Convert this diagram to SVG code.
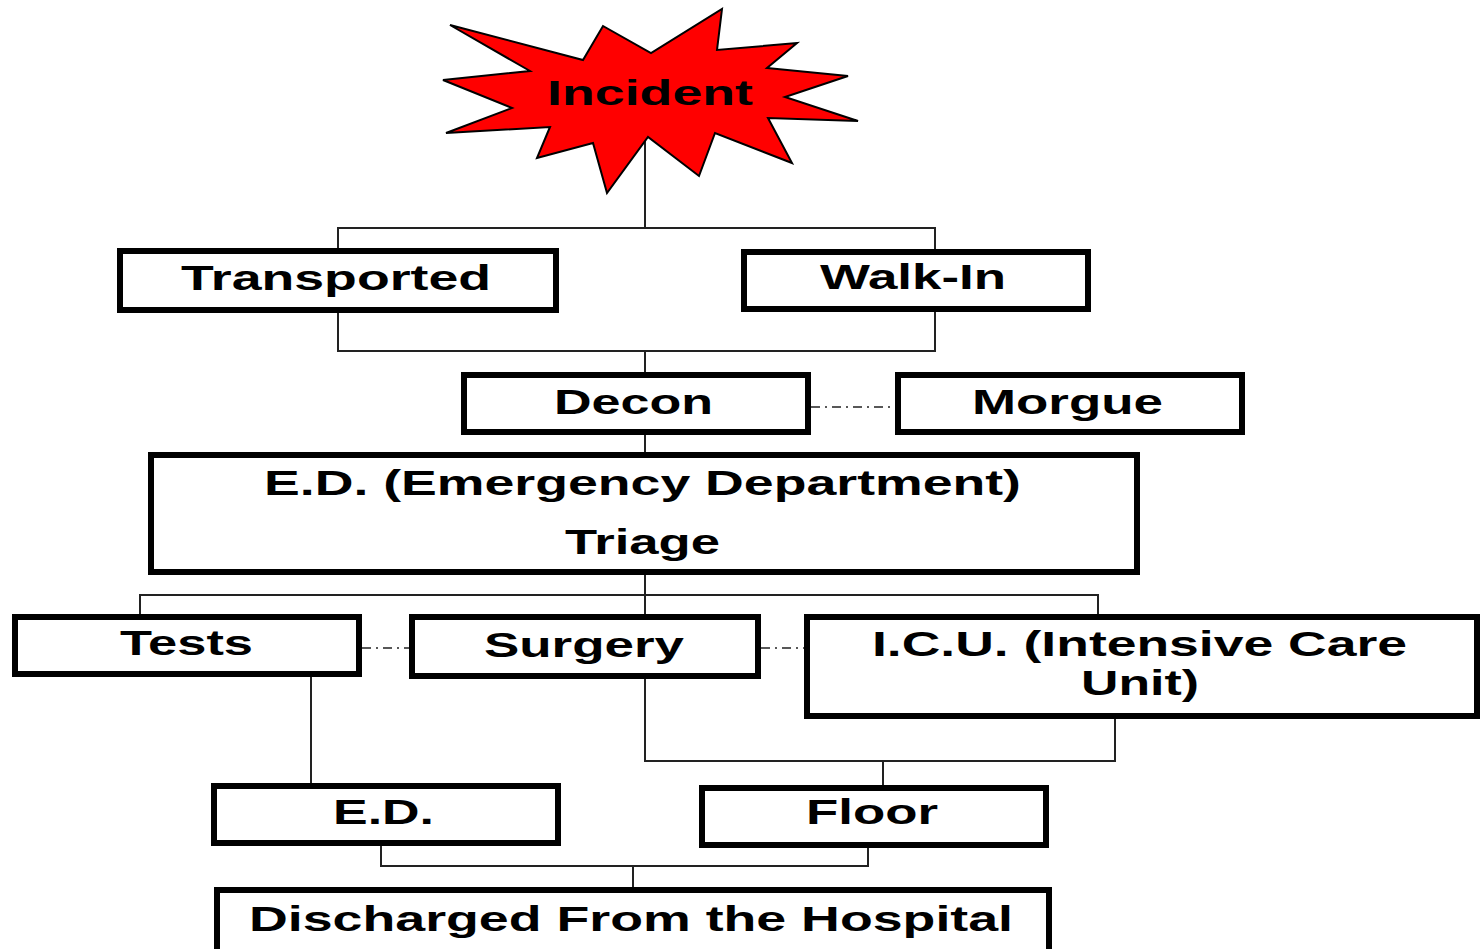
<svg xmlns="http://www.w3.org/2000/svg" width="1482" height="949" viewBox="0 0 1482 949">
<style>
.box{fill:#fff;stroke:#000;stroke-width:6}
.ln{fill:none;stroke:#222;stroke-width:2}
.dd{fill:none;stroke:#222;stroke-width:1.5;stroke-dasharray:9 5 2 5}
.t{font-family:"Liberation Sans",Arial,sans-serif;font-weight:bold;font-size:35px;fill:#000}
</style>
<rect width="1482" height="949" fill="#fff"/>
<g id="connectors">
<path class="ln" d="M645,137 V228 M338,251 V228 H935 V252"/>
<path class="ln" d="M338,310 V351 H935 V309 M645,351 V375"/>
<path class="ln" d="M645,432 V455"/>
<path class="ln" d="M645,572 V617 M140,617 V595 H1098 V617"/>
<path class="ln" d="M311,674 V786"/>
<path class="ln" d="M645,676 V761 H1115 V716 M883,761 V788"/>
<path class="ln" d="M381,843 V866 H868 V845 M633,866 V890"/>
<path class="dd" d="M811,407 H895"/>
<path class="dd" d="M362,648 H409"/>
<path class="dd" d="M761,648 H804"/>
</g>
<g id="incident">
<polygon points="450,25 583,60 603,26 651,53 722,9 717,50 797,43 767,68 848,76 785,97 858,121 768,118 792,163 715,133 699,176 648,137 607,193 593,143 537,158 550,127 446,133 512,108 443,80 530,71" fill="#ff0000" stroke="#000" stroke-width="2" stroke-linejoin="miter"/>
<text class="t" x="547" y="105" textLength="206" lengthAdjust="spacingAndGlyphs">Incident</text>
</g>
<g id="transported">
<rect class="box" x="120" y="251" width="436" height="59"/>
<text class="t" x="181" y="290" textLength="310" lengthAdjust="spacingAndGlyphs">Transported</text>
</g>
<g id="walkin">
<rect class="box" x="744" y="252" width="344" height="57"/>
<text class="t" x="820" y="289" textLength="186" lengthAdjust="spacingAndGlyphs">Walk-In</text>
</g>
<g id="decon">
<rect class="box" x="464" y="375" width="344" height="57"/>
<text class="t" x="554" y="414" textLength="159" lengthAdjust="spacingAndGlyphs">Decon</text>
</g>
<g id="morgue">
<rect class="box" x="898" y="375" width="344" height="57"/>
<text class="t" x="972" y="414" textLength="191" lengthAdjust="spacingAndGlyphs">Morgue</text>
</g>
<g id="ed-triage">
<rect class="box" x="151" y="455" width="986" height="117"/>
<text class="t" x="264" y="495" textLength="757" lengthAdjust="spacingAndGlyphs">E.D. (Emergency Department)</text>
<text class="t" x="565" y="554" textLength="155" lengthAdjust="spacingAndGlyphs">Triage</text>
</g>
<g id="tests">
<rect class="box" x="15" y="617" width="344" height="57"/>
<text class="t" x="120" y="655" textLength="133" lengthAdjust="spacingAndGlyphs">Tests</text>
</g>
<g id="surgery">
<rect class="box" x="412" y="617" width="346" height="59"/>
<text class="t" x="484" y="657" textLength="200" lengthAdjust="spacingAndGlyphs">Surgery</text>
</g>
<g id="icu">
<rect class="box" x="807" y="617" width="670" height="99"/>
<text class="t" x="872" y="656" textLength="535" lengthAdjust="spacingAndGlyphs">I.C.U. (Intensive Care</text>
<text class="t" x="1081" y="695" textLength="118" lengthAdjust="spacingAndGlyphs">Unit)</text>
</g>
<g id="ed">
<rect class="box" x="214" y="786" width="344" height="57"/>
<text class="t" x="333" y="824" textLength="101" lengthAdjust="spacingAndGlyphs">E.D.</text>
</g>
<g id="floor">
<rect class="box" x="702" y="788" width="344" height="57"/>
<text class="t" x="806" y="824" textLength="132" lengthAdjust="spacingAndGlyphs">Floor</text>
</g>
<g id="discharged">
<rect class="box" x="217" y="890" width="832" height="70"/>
<text class="t" x="249" y="931" textLength="764" lengthAdjust="spacingAndGlyphs">Discharged From the Hospital</text>
</g>
</svg>
